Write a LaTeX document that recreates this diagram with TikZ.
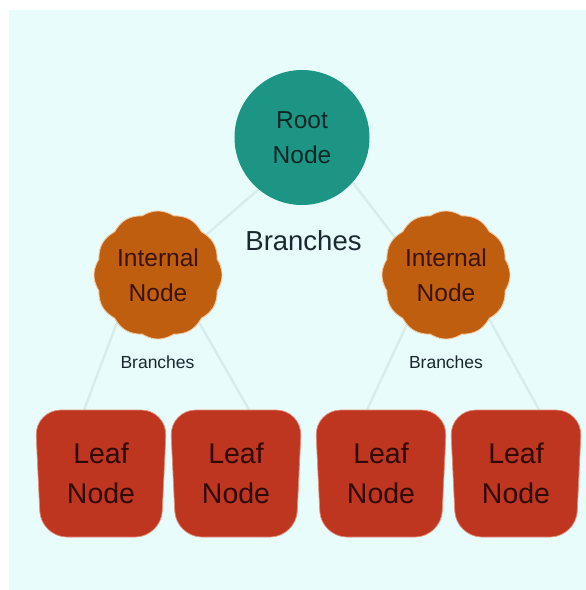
\documentclass[tikz,border=0pt]{standalone}
\usepackage{fontspec}
\setmainfont{Liberation Sans}
\pgfdeclarelayer{background}
\pgfsetlayers{background,main}

\definecolor{canvas}{HTML}{E8FCFC}
\definecolor{branchline}{HTML}{D7ECEC}
\definecolor{rootfill}{HTML}{1C9585}
\definecolor{rootink}{HTML}{0C2624}
\definecolor{innerfill}{HTML}{C05E10}
\definecolor{innerrim}{HTML}{F0C8A0}
\definecolor{innerink}{HTML}{3A1306}
\definecolor{leaffill}{HTML}{BE3520}
\definecolor{leafrim}{HTML}{E48C78}
\definecolor{leafink}{HTML}{2E0805}
\definecolor{labelink}{HTML}{1B2830}

\tikzset{
  rootnode/.style={circle, fill=rootfill, minimum size=135pt, inner sep=0pt,
    text=rootink, align=center, font=\fontsize{24.5}{35}\selectfont},
  innernode/.style={circle, minimum size=124pt, inner sep=0pt,
    text=innerink, align=center, font=\fontsize{24.5}{35}\selectfont},
  leafnode/.style={rectangle, minimum width=132pt, minimum height=127pt, inner sep=0pt,
    text=leafink, align=center, font=\fontsize{28.5}{40}\selectfont},
  biglabel/.style={text=labelink, font=\fontsize{27.5}{32}\selectfont},
  smalllabel/.style={text=labelink, font=\fontsize{17.5}{20}\selectfont},
  branch/.style={draw=branchline, line width=2.4pt},
  wavyfill/.style={fill=innerfill, draw=innerrim, line width=0.9pt},
  leafbody/.style={fill=leaffill, draw=leafrim, line width=0.7pt, rounded corners=26pt},
}

\begin{document}
\begin{tikzpicture}[x=1pt, y=-1pt]
  \useasboundingbox (0,0) rectangle (586,590);

  % nodes carrying the text
  \node[rootnode] (root) at (302,137.5) {Root\\Node};
  \node[innernode] (in1) at (158,275) {Internal\\Node};
  \node[innernode] (in2) at (446,275) {Internal\\Node};
  \node[leafnode] (lf1) at (101,473.5) {Leaf\\Node};
  \node[leafnode] (lf2) at (236,473.5) {Leaf\\Node};
  \node[leafnode] (lf3) at (381,473.5) {Leaf\\Node};
  \node[leafnode] (lf4) at (516,473.5) {Leaf\\Node};

  \node[biglabel] (br0) at (303.5,241) {Branches};
  \node[smalllabel] (br1) at (157.5,362) {Branches};
  \node[smalllabel] (br2) at (446,362) {Branches};

  \begin{pgfonlayer}{background}
    % canvas
    \fill[canvas] (9,10) rectangle (586,590);

    % branches between levels
    \draw[branch] ([xshift=16pt]root.center) -- ([xshift=2pt]in1.center);
    \draw[branch] ([xshift=16pt]root.center) -- ([xshift=-22pt]in2.center);
    \draw[branch] ([xshift=-23pt]in1.center) -- ([xshift=-17pt]lf1.north);
    \draw[branch] ([xshift=14pt]in1.center) -- ([xshift=13pt]lf2.north);
    \draw[branch] ([xshift=-16pt]in2.center) -- ([xshift=-14pt]lf3.north);
    \draw[branch] ([xshift=19pt]in2.center) -- ([xshift=23pt]lf4.north);

    % scalloped bodies of the internal nodes: twelve shallow lobes
    \foreach \n in {in1,in2}{
      \begin{scope}[shift={(\n.center)}]
        \path[wavyfill] plot[domain=0:359, samples=360]
          ({(61.2+2.8*abs(cos(6*\x)))*cos(\x)}, {(61.2+2.8*abs(cos(6*\x)))*sin(\x)}) -- cycle;
      \end{scope}
    }

    % rounded, slightly tapering leaf bodies
    \foreach \n in {lf1,lf2,lf3,lf4}{
      \begin{scope}[shift={(\n.center)}]
        \path[leafbody] (-66,-63.5) -- (66,-63.5) -- (60,63.5) -- (-60,63.5) -- cycle;
      \end{scope}
    }
  \end{pgfonlayer}
\end{tikzpicture}
\end{document}
